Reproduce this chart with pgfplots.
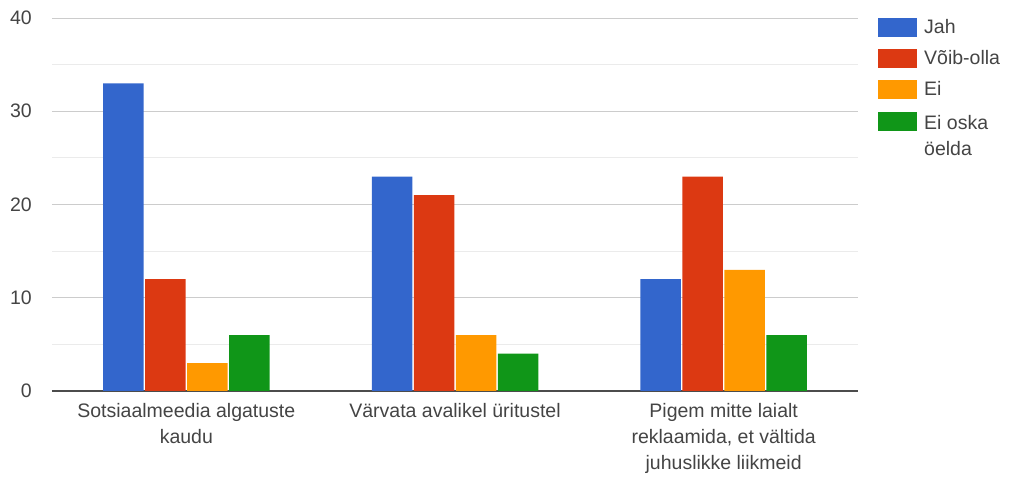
\documentclass[border=0pt]{standalone}
\usepackage{fontspec}
\setmainfont{Liberation Sans}
\usepackage{pgfplots}
\pgfplotsset{compat=1.18}
\definecolor{cJah}{HTML}{3366CC}
\definecolor{cVoib}{HTML}{DC3912}
\definecolor{cEi}{HTML}{FF9900}
\definecolor{cEio}{HTML}{109618}
\definecolor{txt}{HTML}{444444}
\newcommand\cf{\fontsize{19.5}{26}\selectfont}
\begin{document}
\begin{tikzpicture}
\begin{axis}[
 name=ax,
 scale only axis, width=806pt, height=373pt,
 ymin=0, ymax=40, xmin=-0.5, xmax=2.5,
 ytick={0,10,20,30,40}, minor ytick={5,15,25,35},
 ymajorgrids, yminorgrids,
 major grid style={draw=black!20, line width=0.9pt},
 minor grid style={draw=black!8, line width=0.9pt},
 xtick={0,1,2},
 xticklabels={{Sotsiaalmeedia algatuste\\kaudu},{Värvata avalikel üritustel},{Pigem mitte laialt\\reklaamida, et vältida\\juhuslikke liikmeid}},
 major tick length=0pt, minor tick length=0pt,
 axis x line*=bottom, axis y line*=left,
 y axis line style={draw=none},
 x axis line style={draw=black!70, line width=1.3pt},
 ybar=1.5pt, bar width=40.5pt,
 tick label style={font=\cf, color=txt},
 /pgf/number format/assume math mode=true,
 xticklabel style={align=center, anchor=north, inner sep=0pt, yshift=-12.5pt},
 yticklabel style={anchor=east, inner sep=0pt, xshift=-20pt},
 legend style={draw=none, fill=none, at={(1,1)}, anchor=north west, xshift=20pt,
   inner sep=0pt, font=\cf, text=txt, row sep=12pt, column sep=7pt,
   nodes={inner sep=0pt}},
 legend cell align=left,
 legend image code/.code={\fill[#1] (0pt,-10pt) rectangle (39pt,9pt);},
]
\addplot[fill=cJah, draw=none] coordinates {(0,33) (1,23) (2,12)};
\addplot[fill=cVoib, draw=none] coordinates {(0,12) (1,21) (2,23)};
\addplot[fill=cEi, draw=none] coordinates {(0,3) (1,6) (2,13)};
\addplot[fill=cEio, draw=none] coordinates {(0,6) (1,4) (2,6)};
\legend{Jah, Võib-olla, Ei, {\begin{tabular}[t]{@{}l@{}}Ei oska\\öelda\end{tabular}}}
\end{axis}
\pgfresetboundingbox
\path ([xshift=-52pt,yshift=-87pt]ax.south west) rectangle ([xshift=153pt,yshift=18pt]ax.north east);
\end{tikzpicture}
\end{document}
